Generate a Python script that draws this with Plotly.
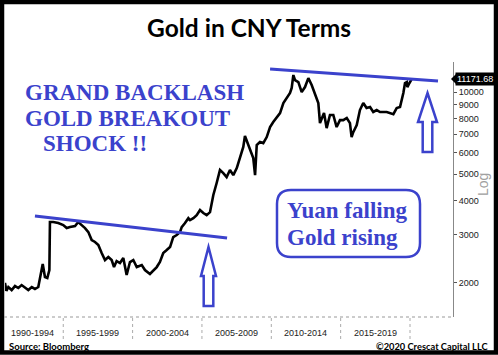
import numpy as np
import plotly.graph_objects as go

# ---- data (decimal year, gold price in CNY/oz) ----
years = [1990.80, 1990.90, 1991.04, 1991.28, 1991.52, 1991.76, 1992.00, 1992.24, 1992.48, 1992.73,
         1992.96, 1993.20, 1993.32, 1993.52, 1993.68, 1993.85, 1994.00, 1994.04, 1994.28, 1994.64,
         1995.00, 1995.25, 1995.49, 1995.85, 1996.08, 1996.33, 1996.57, 1996.81, 1997.05, 1997.29,
         1997.53, 1997.77, 1998.01, 1998.25, 1998.49, 1998.66, 1998.85, 1999.09, 1999.33, 1999.57,
         1999.81, 2000.05, 2000.30, 2000.66, 2000.89, 2001.25, 2001.49, 2001.74, 2001.97, 2002.21,
         2002.46, 2002.70, 2002.93, 2003.18, 2003.42, 2003.54, 2003.78, 2004.02, 2004.14, 2004.38,
         2004.62, 2004.86, 2005.10, 2005.34, 2005.58, 2005.82, 2006.06, 2006.30, 2006.54, 2006.78,
         2007.02, 2007.26, 2007.51, 2007.74, 2007.98, 2008.10, 2008.34, 2008.59, 2008.70, 2008.83,
         2008.95, 2009.18, 2009.42, 2009.67, 2009.91, 2010.14, 2010.39, 2010.63, 2010.87, 2011.11,
         2011.35, 2011.47, 2011.59, 2011.71, 2011.95, 2012.07, 2012.19, 2012.43, 2012.67, 2012.91,
         2013.15, 2013.39, 2013.51, 2013.63, 2013.80, 2013.99, 2014.23, 2014.47, 2014.71, 2014.95,
         2015.19, 2015.44, 2015.67, 2015.79, 2015.91, 2016.16, 2016.39, 2016.63, 2016.87, 2017.12,
         2017.35, 2017.60, 2017.84, 2018.32, 2018.56, 2018.80, 2019.04, 2019.28, 2019.52, 2019.64,
         2019.77, 2019.81, 2019.96, 2020.13]
gold_cny = [2000, 1870, 1931, 1882, 1947, 1915, 1963, 1915, 1882, 1931,
            1900, 1931, 2083, 2344, 2100, 2083, 2228, 3340, 3340, 3311,
            3258, 3175, 3201, 3228, 3340, 3258, 3175, 3069, 2870, 2823,
            2753, 2572, 2425, 2487, 2425, 2285, 2404, 2364, 2466, 2138,
            2384, 2425, 2285, 2323, 2228, 2155, 2228, 2285, 2384, 2572,
            2637, 2705, 2944, 2994, 3069, 3201, 3311, 3451, 3396, 3451,
            3540, 3698, 3606, 3540, 3631, 4197, 4643, 5180, 5048, 4882,
            5180, 4962, 5268, 5779, 6290, 6899, 6396, 5979, 5728, 4962,
            6396, 6559, 6500, 6840, 7443, 7770, 8035, 8373, 9118, 9506,
            9916, 10345, 11541, 11064, 10878, 10430, 10000, 10430, 11245, 10610,
            9916, 9118, 7696, 8035, 8373, 7380, 8240, 8240, 7443, 7890,
            7890, 8035, 7696, 6840, 7130, 7570, 8590, 9118, 8736, 8810,
            8450, 8590, 8450, 8450, 8373, 8300, 8736, 8810, 9916, 10790,
            10878, 10430, 10790, 11171.68]

trend1_x = [1992.96, 2006.81]
trend1_y = [3515, 2917]
trend2_x = [2009.91, 2022.02]
trend2_y = [12140, 10970]

y_ticks = [2000, 3000, 4000, 5000, 6000, 7000, 8000, 9000, 10000]
period_labels = ["1990-1994", "1995-1999", "2000-2004", "2005-2009", "2010-2014", "2015-2019"]
period_centers = [1992.75, 1997.5, 2002.5, 2007.5, 2012.5, 2017.5]
period_dividers = [1995, 2000, 2005, 2010, 2015, 2020]

# ---- layout geometry (pixels) ----
W, H = 498, 355
L, R, T, B = 5, 453, 62, 317
def X(px):
    return (px - L) / (R - L)
def Y(py):
    return (B - py) / (B - T)

BLUE = "#3b42cc"

fig = go.Figure()
fig.add_trace(go.Scatter(x=years, y=gold_cny, mode="lines",
                         line=dict(color="black", width=2.6), hoverinfo="skip"))
fig.add_trace(go.Scatter(x=trend1_x, y=trend1_y, mode="lines",
                         line=dict(color=BLUE, width=3), hoverinfo="skip"))
fig.add_trace(go.Scatter(x=trend2_x, y=trend2_y, mode="lines",
                         line=dict(color=BLUE, width=3), hoverinfo="skip"))

shapes = []
# outer black frame
shapes.append(dict(type="rect", xref="paper", yref="paper",
                   x0=X(2), x1=X(496), y0=Y(352.5), y1=Y(2),
                   line=dict(color="black", width=4.5), fillcolor="rgba(0,0,0,0)", layer="above"))
# bottom dotted axis line
shapes.append(dict(type="line", xref="paper", yref="paper",
                   x0=X(4), x1=X(453), y0=0, y1=0,
                   line=dict(color="#999999", width=1, dash="dot")))
# period dividers
for d in period_dividers:
    shapes.append(dict(type="line", xref="x", yref="paper", x0=d, x1=d,
                       y0=Y(318), y1=Y(339),
                       line=dict(color="#aaaaaa", width=1, dash="dot")))

def up_arrow(cx, top, head_base, head_hw, shaft_hw, bottom):
    pts = [(cx, top), (cx + head_hw, head_base), (cx + shaft_hw, head_base),
           (cx + shaft_hw, bottom), (cx - shaft_hw, bottom), (cx - shaft_hw, head_base),
           (cx - head_hw, head_base)]
    p = "M " + " L ".join(f"{X(a):.5f},{Y(b):.5f}" for a, b in pts) + " Z"
    return dict(type="path", xref="paper", yref="paper", path=p,
                fillcolor="white", line=dict(color=BLUE, width=2.5))

shapes.append(up_arrow(208.5, 247, 276, 7.5, 4.8, 306))
shapes.append(up_arrow(427.5, 93, 122, 9.5, 4.8, 152))

# rounded box around "Yuan falling / Gold rising"
def rounded_box(x0, y0, x1, y1, r):
    segs = [f"M {X(x0 + r):.5f},{Y(y0):.5f}",
            f"L {X(x1 - r):.5f},{Y(y0):.5f}",
            f"Q {X(x1):.5f},{Y(y0):.5f} {X(x1):.5f},{Y(y0 + r):.5f}",
            f"L {X(x1):.5f},{Y(y1 - r):.5f}",
            f"Q {X(x1):.5f},{Y(y1):.5f} {X(x1 - r):.5f},{Y(y1):.5f}",
            f"L {X(x0 + r):.5f},{Y(y1):.5f}",
            f"Q {X(x0):.5f},{Y(y1):.5f} {X(x0):.5f},{Y(y1 - r):.5f}",
            f"L {X(x0):.5f},{Y(y0 + r):.5f}",
            f"Q {X(x0):.5f},{Y(y0):.5f} {X(x0 + r):.5f},{Y(y0):.5f} Z"]
    return dict(type="path", xref="paper", yref="paper", path=" ".join(segs),
                fillcolor="rgba(0,0,0,0)", line=dict(color=BLUE, width=2.5))
shapes.append(rounded_box(277, 190, 420, 257, 14))

# pointer notch of last-value tag
last = gold_cny[-1]
shapes.append(dict(type="path", xref="paper", yref="paper",
                   path=f"M {X(451):.5f},{Y(79):.5f} L {X(456):.5f},{Y(74):.5f} L {X(456):.5f},{Y(84):.5f} Z",
                   fillcolor="black", line=dict(width=0)))

ann = []
ann.append(dict(text="<b>Gold in CNY Terms</b>", xref="paper", yref="paper",
                x=X(249), y=Y(27), xanchor="center", yanchor="middle", showarrow=False,
                font=dict(family="Lato", size=24.5, color="black")))
serif = dict(family="Liberation Serif", size=23, color=BLUE)
for txt, lx, cy in [("GRAND BACKLASH", 23, 92), ("GOLD BREAKOUT", 23, 118), ("SHOCK !!", 41, 143),
                    ("Yuan falling", 285, 211), ("Gold rising", 285, 237)]:
    ann.append(dict(text=f"<b>{txt}</b>", xref="paper", yref="paper", x=X(lx), y=Y(cy),
                    xanchor="left", yanchor="middle", showarrow=False, font=serif))
for lab, c in zip(period_labels, period_centers):
    ann.append(dict(text=lab, xref="x", yref="paper", x=c, y=Y(333),
                    xanchor="center", yanchor="middle", showarrow=False,
                    font=dict(family="Liberation Sans", size=9, color="#222222")))
ann.append(dict(text=f"{last:.2f}", xref="paper", yref="y", x=X(455), y=np.log10(last),
                xanchor="left", yanchor="middle", showarrow=False, bgcolor="black",
                borderpad=1, font=dict(family="Liberation Sans", size=9, color="white")))
ann.append(dict(text="Log", xref="paper", yref="paper", x=X(483), y=Y(185), textangle=-90,
                xanchor="center", yanchor="middle", showarrow=False,
                font=dict(family="Liberation Sans", size=14, color="#a0a0a0")))
ann.append(dict(text="<b>Source: Bloomberg</b>", xref="paper", yref="paper", x=X(7), y=Y(346),
                xanchor="left", yanchor="middle", showarrow=False,
                font=dict(family="Lato", size=9.5, color="black")))
ann.append(dict(text="<b>©2020 Crescat Capital LLC</b>", xref="paper", yref="paper", x=X(491), y=Y(346),
                xanchor="right", yanchor="middle", showarrow=False,
                font=dict(family="Lato", size=9.3, color="black")))

fig.update_layout(
    width=W, height=H, margin=dict(l=L, r=W - R, t=T, b=H - B),
    paper_bgcolor="white", plot_bgcolor="white", showlegend=False,
    shapes=shapes, annotations=ann,
    xaxis=dict(range=[1990.8, 2023.1], showgrid=False, zeroline=False, showticklabels=False,
               ticks="", showline=False, fixedrange=True),
    yaxis=dict(type="log", range=[3.176, 4.110], side="right", tickvals=y_ticks,
               ticktext=[str(v) for v in y_ticks], ticks="outside", ticklen=3,
               tickcolor="#555555", showline=True, linecolor="#888888", linewidth=1,
               showgrid=False, zeroline=False,
               tickfont=dict(family="Liberation Sans", size=9, color="#222222")),
)
fig.write_html("out.html")
